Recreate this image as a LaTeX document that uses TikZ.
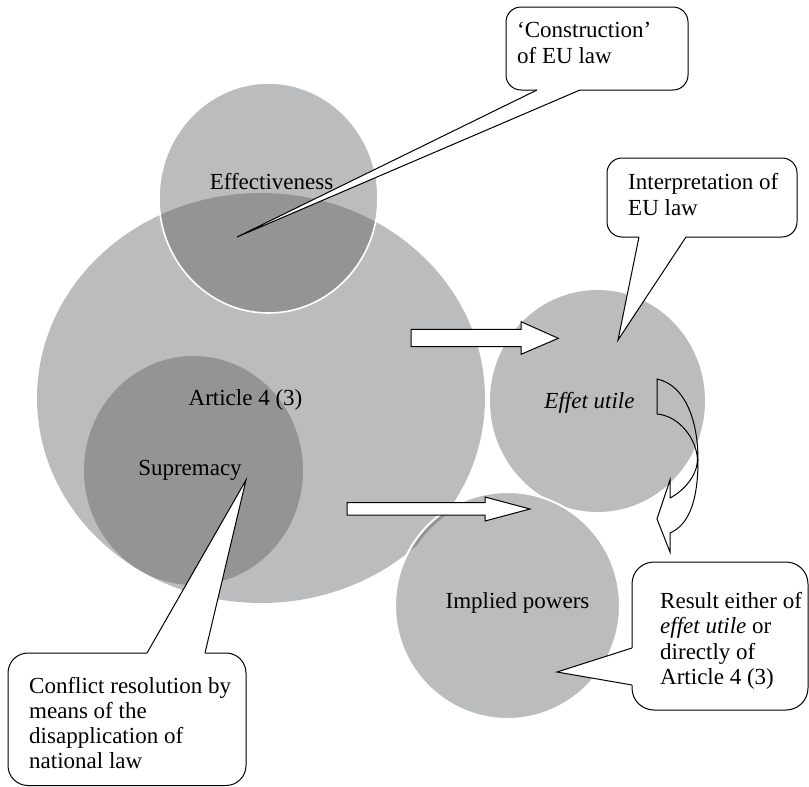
\documentclass[tikz,border=0pt]{standalone}
\usepackage{fontspec}
\setmainfont{Liberation Serif}
\definecolor{lightdisc}{RGB}{187,188,190}
\definecolor{darkdisc}{RGB}{147,148,150}
\tikzset{
  lbl/.style={inner sep=0pt, font=\fontsize{23}{25.5}\selectfont},
  linelbl/.style={lbl, anchor=base west},
  disclbl/.style={lbl, anchor=base},
  bubble/.style={fill=white, draw=black, line width=1pt},
  wedgeline/.style={draw=black, line width=1pt},
  blockarrow/.style={fill=white, draw=black, line width=1pt, line join=miter},
  curvearrow/.style={draw=black, line width=1pt},
  bigdisc/.style={x radius=224, y radius=205},
  effdisc/.style={x radius=109.5, y radius=115},
  impdisc/.style={x radius=112.5, y radius=113.5},
}
\begin{document}
\begin{tikzpicture}[x=1pt,y=-1pt]
\useasboundingbox (0,0) rectangle (809,787);

% Article 4 (3) disc with the Effectiveness disc overlapping its top
\fill[lightdisc] (261,398) ellipse [bigdisc];
\fill[lightdisc] (268.5,198) ellipse [effdisc];
\begin{scope}
  \clip (261,398) ellipse [bigdisc];
  \fill[darkdisc] (268.5,198) ellipse [effdisc];
\end{scope}
\draw[white, line width=1.6pt] (268.5,198) ellipse [effdisc];

% Supremacy disc
\fill[darkdisc] (193.5,470.5) ellipse [x radius=109.5, y radius=114.5];

% Effet utile disc
\fill[lightdisc] (597.5,401) ellipse [x radius=107.5, y radius=111];

% Implied powers disc, with a thin darker crescent where it meets the big disc
\fill[lightdisc] (507.5,605.5) ellipse [impdisc];
\begin{scope}
  \clip (507.5,605.5) ellipse [impdisc];
  \begin{scope}
    \clip (261,398) ellipse [bigdisc];
    \fill[darkdisc] (507.5,605.5) ellipse [impdisc];
  \end{scope}
  \fill[lightdisc] (510.5,608.5) ellipse [impdisc];
\end{scope}
\draw[white, line width=2pt] (507.5,605.5) ellipse [impdisc];

% block arrows
\draw[blockarrow] (411,329.3) -- (521,329.3) -- (521,321.7) -- (558.3,338.3)
  -- (521,354.3) -- (521,346.7) -- (411,346.7) -- cycle;
\draw[blockarrow] (347,502.5) -- (485,502.5) -- (485,497) -- (530,509)
  -- (485,521) -- (485,515) -- (347,515) -- cycle;

% curved arrow from Effet utile down to the result callout
\draw[curvearrow] (657,379) .. controls (685,385) and (698,420) .. (698,460)
  .. controls (698,503) and (688,525) .. (670,533) -- (670,552) -- (657,519)
  -- (670,480) -- (670,498) .. controls (685,490) and (697,475) .. (697.5,460)
  .. controls (697,440) and (680,416) .. (657,414) -- cycle;

% callout: construction
\coordinate (c1tip) at (237,237);
\draw[bubble, rounded corners=15pt] (506,7) rectangle (688,90);
\fill[white] (537,88) -- (537,90) -- (c1tip) -- (580,90) -- (580,88) -- cycle;
\draw[wedgeline] (537,90) -- (c1tip) -- (580,90);
\node[linelbl] (c1a) at (517,37.5) {‘Construction’};
\node[linelbl] (c1b) at (517,63) {of EU law};

% callout: interpretation
\coordinate (c2tip) at (618,340);
\draw[bubble, rounded corners=15pt] (607,158) rectangle (797,237);
\fill[white] (639,235) -- (639,237) -- (c2tip) -- (686,237) -- (686,235) -- cycle;
\draw[wedgeline] (639,237) -- (c2tip) -- (686,237);
\node[linelbl] (c2a) at (628,189) {Interpretation of};
\node[linelbl] (c2b) at (628,215) {EU law};

% callout: conflict resolution
\coordinate (c3tip) at (246,480);
\draw[bubble, rounded corners=20pt] (8,653) rectangle (246,785.5);
\fill[white] (147,655) -- (147,653) -- (c3tip) -- (205,653) -- (205,655) -- cycle;
\draw[wedgeline] (147,653) -- (c3tip) -- (205,653);
\node[linelbl] (c3a) at (29,693) {Conflict resolution by};
\node[linelbl] (c3b) at (29,718) {means of the};
\node[linelbl] (c3c) at (29,743) {disapplication of};
\node[linelbl] (c3d) at (29,768) {national law};

% callout: result
\coordinate (c4tip) at (557,672);
\draw[bubble, rounded corners=22pt] (632,562) rectangle (808,710);
\fill[white] (634,648) -- (632,648) -- (c4tip) -- (632,685) -- (634,685) -- cycle;
\draw[wedgeline] (632,648) -- (c4tip) -- (632,685);
\node[linelbl] (c4a) at (660,608) {Result either of};
\node[linelbl] (c4b) at (660,633.5) {\itshape effet utile\upshape{} or};
\node[linelbl] (c4c) at (660,659) {directly of};
\node[linelbl] (c4d) at (660,684.5) {Article 4 (3)};

% disc labels
\node[disclbl] (eff) at (271.5,189) {Effectiveness};
\node[disclbl] (art) at (245.5,405) {Article 4 (3)};
\node[disclbl] (sup) at (190,475) {Supremacy};
\node[disclbl] (eu) at (589.5,408) {\itshape Effet utile};
\node[disclbl] (imp) at (517.5,608) {Implied powers};
\end{tikzpicture}
\end{document}
